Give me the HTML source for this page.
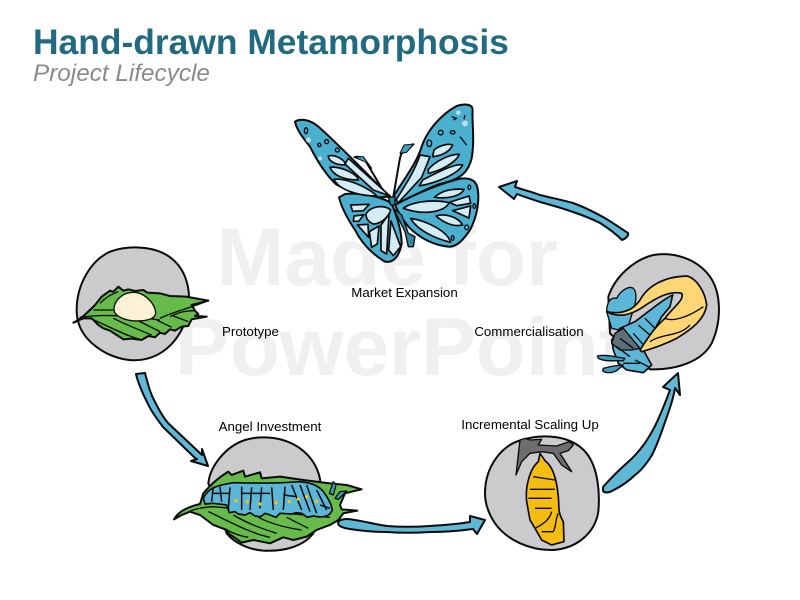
<!DOCTYPE html>
<html><head><meta charset="utf-8"><style>
html,body{margin:0;padding:0;background:#fff;width:800px;height:600px;overflow:hidden}
svg{display:block}
text{font-family:"Liberation Sans",sans-serif}
</style></head><body>
<svg width="800" height="600" viewBox="0 0 800 600" xmlns="http://www.w3.org/2000/svg">
<text x="33" y="54" font-size="35.4" font-weight="bold" fill="#216a80">Hand-drawn Metamorphosis</text>
<text x="33" y="81" font-size="24.3" font-style="italic" fill="#8a8a8a">Project Lifecycle</text>
<text x="387" y="285" font-size="82" font-weight="bold" fill="#f0f0f0" text-anchor="middle">Made for</text>
<text x="175" y="375" font-size="82" font-weight="bold" fill="#f0f0f0">PowerPoint</text>

<g stroke="#0b0b0b" stroke-width="2" stroke-linejoin="round" fill="#cbcbcd">
<g transform="translate(60,240) scale(.3333)" stroke-width="6">
<path d="M50,210C50,130 95,60 150,35C195,18 270,15 320,45C370,75 390,130 387,190C384,250 350,310 300,340C250,370 190,365 140,340C85,310 50,270 50,210Z"/>
<path fill="#66bb4a" d="M40,248C65,235 85,215 105,195L125,170L150,152L160,155L175,140L190,152L205,148L225,153L250,150L262,158L300,160L330,168L378,170L445,182L395,195L405,212L415,222L405,228L440,230L395,238L385,258L365,260L345,272L330,268L315,282L300,278L285,292L265,288L245,300L215,296L190,298L170,285L150,272L130,265L115,255L95,235L70,235Z"/>
<path fill="none" stroke-width="4" d="M60,232C110,225 170,222 300,240M90,235C140,255 190,285 240,298M160,235C200,255 250,275 275,285M230,240L300,275M290,240L335,262M300,235C340,215 390,205 445,182M330,230C360,215 380,212 405,212M340,228L385,245M100,210L160,210M120,190C140,170 160,160 175,155"/>
<path fill="#fdf1d6" d="M162,205C165,175 195,155 225,157C255,160 285,190 287,218C287,240 250,245 215,242C185,238 160,225 162,205Z" stroke-width="4"/>
</g>

<g transform="translate(170,430) scale(.3333)" stroke-width="6">
<path d="M115,160C120,110 165,50 225,30C275,15 340,20 390,55C425,80 450,120 452,165L430,310C400,350 340,365 280,362C230,358 190,335 170,310Z"/>
<path fill="#66bb4a" d="M12,268C25,245 50,232 90,222L100,190C125,160 150,140 175,125L185,135L220,122L225,140L270,127L275,145L330,140L400,150L480,160L530,165L575,178L525,190L510,225L515,238L562,242L520,250L505,270L480,285L440,300L410,320L370,330L340,322L300,340L250,330L215,338L175,310L170,300L130,285L90,255L60,245L35,255Z"/>
<path fill="none" stroke-width="4" d="M40,255C60,240 90,232 130,230L480,262M115,245C170,270 240,310 300,322M190,255C240,285 290,300 320,310M265,262C310,285 360,295 395,300M350,262L415,295M170,300C200,315 220,320 235,322"/>
<path fill="#5cb6d8" d="M100,205C115,170 150,165 190,158C250,160 320,160 390,155C420,158 445,165 460,185C475,205 485,225 487,240C480,258 460,265 430,258L412,262L395,250L380,248L365,252L330,250L318,262L300,255L285,250L272,260L255,258L240,248L225,255L205,252L195,245L178,248L170,225L130,220L105,222Z" stroke-width="5"/>
<path fill="#3f9dbd" d="M478,190L490,155L498,165L490,195ZM495,205L510,185L530,183L505,208Z" stroke-width="4"/>
<path fill="none" stroke-width="4.5" d="M130,170L125,215M150,170L155,215M180,172L175,240M215,170L215,240M245,172L240,240M275,172L270,235M305,172L310,240M345,170L340,240M365,165L395,240M390,165L420,245M410,165L440,250M440,180L470,240M125,190L180,190M215,190L300,190M340,195L380,200M450,225L480,235"/>
<g fill="#f5c518" stroke="none"><circle cx="198" cy="212" r="5"/><circle cx="232" cy="215" r="5"/><circle cx="270" cy="222" r="5"/><circle cx="318" cy="218" r="5"/><circle cx="358" cy="215" r="5"/><circle cx="385" cy="207" r="5"/><circle cx="410" cy="200" r="5"/><circle cx="440" cy="214" r="5"/></g>
</g>

<g transform="translate(480,430) scale(.3333)" stroke-width="6">
<path d="M15,190C15,110 65,45 125,30C190,10 275,15 320,70C355,115 360,190 355,245C345,310 290,355 220,360C150,362 80,330 45,280C25,250 15,220 15,190Z"/>
<path fill="#6e6e70" d="M108,135L120,30L135,25L150,30L185,28L175,45L230,48L268,35L280,45L265,62L240,70L275,125L245,105L220,70L185,65L150,70L125,95Z" stroke-width="4"/>
<path fill="#f5bd11" d="M180,70L195,92C220,110 230,150 235,200C238,230 232,245 250,275L252,335L215,345L185,330L165,295L150,270L140,215C135,170 150,115 175,95Z" stroke-width="5"/>
<path fill="none" stroke-width="4" d="M160,140L225,150M150,178L225,178M145,205L215,205M165,235L215,235M215,245C210,265 195,280 165,295M235,250C225,270 230,285 220,305M185,305L220,305"/>
</g>

<g transform="translate(590,250) scale(.3333)" stroke-width="6">
<path d="M55,140C75,80 130,30 190,15C250,5 320,25 360,80C395,130 395,215 365,280C335,335 260,360 180,358L60,250Z"/>
<path fill="#5cb6d8" d="M50,185C50,160 60,140 80,145C90,125 115,105 130,115C145,130 135,170 125,195L110,245L65,235Z" stroke-width="4"/>
<path fill="#5cb6d8" d="M135,215C170,190 215,150 248,135L240,170L215,200L160,300L185,345L160,368L110,360L85,340L70,300L65,270L90,235Z" stroke-width="5"/>
<path fill="#5f6f78" d="M75,250L100,235L125,265L150,295L125,300L90,300L65,280Z" stroke-width="4"/>
<path fill="none" stroke-width="4" d="M165,205L200,240M145,225L185,260M130,250L165,290M90,265L130,295M80,290L120,320M100,340L150,340M135,330L175,350"/>
<path fill="#3f9dbd" d="M22,318C45,312 80,322 105,325L100,332C70,332 40,335 25,325ZM40,355C60,350 85,345 100,345L80,362C65,370 45,370 38,362Z" stroke-width="4"/>
<path fill="#ffd676" d="M50,185C95,195 130,180 150,150C175,105 225,80 290,78C320,85 345,125 350,165C345,205 310,235 260,265C220,285 190,295 155,305L150,300C170,270 190,235 225,205C250,170 285,150 275,130C235,120 190,150 160,170C125,195 85,205 50,185Z" stroke-width="5"/>
<path fill="none" stroke-width="4" d="M225,205C245,215 290,205 340,170M180,275C215,250 270,260 300,225"/>
</g>

<g transform="translate(280,90) scale(.3333)" stroke-width="6" fill="#4bafcf">
<path d="M45,95C60,85 90,88 115,110C150,140 200,190 250,240L330,320L300,322C250,315 190,300 165,280C135,250 110,210 90,170C70,145 50,120 45,95Z"/>
<path d="M340,320C370,270 410,220 425,170C440,125 480,75 530,48C555,40 578,42 578,60C575,90 585,150 575,205C565,245 545,268 480,282C430,300 385,325 345,345Z"/>
<path d="M335,340C300,318 240,308 195,312L177,322C185,355 205,390 225,420C240,450 265,485 315,515C340,520 358,500 365,460C365,420 350,380 335,340Z"/>
<path d="M345,345C400,315 470,285 525,270C550,262 580,262 590,285C602,320 592,380 570,420C550,450 530,472 505,470C460,465 420,445 385,410C370,390 355,370 345,345Z"/>
<path fill="#2f8aa3" d="M325,322L345,320L345,345L332,345ZM340,355L365,375L385,430L405,440L400,470L385,470L375,425Z" stroke-width="4"/>
<path fill="none" d="M340,320L358,215C362,190 370,170 400,163C385,180 375,185 365,190M320,320L255,210C245,200 235,198 222,202"/>
<path fill="#3f9dbd" stroke-width="3" d="M372,165L402,162L380,187L360,190ZM222,202L250,200L275,235L255,215Z"/>
<g fill="#d3ecf6" stroke-width="5">
<path d="M205,205L330,318L280,300L195,222Z"/><path d="M145,198C165,192 200,212 195,225C170,225 145,215 145,198Z"/><path d="M150,232C180,228 230,250 235,270C195,270 160,258 150,232Z"/><path d="M162,268C200,262 275,298 290,318C240,318 178,302 162,268Z"/>
<path d="M420,195L450,200L425,262L355,338L348,330C380,280 405,240 420,195Z"/><path d="M462,180C480,165 508,160 518,165C508,188 480,198 458,200Z"/><path d="M445,238C470,210 512,192 538,193C528,218 480,243 445,250Z"/><path d="M428,270C470,248 528,218 548,225C533,253 470,278 418,288Z"/>
<path d="M258,372C272,348 312,343 332,360C327,382 300,402 280,402C268,397 258,387 258,372Z"/><path d="M212,345L268,343L250,362L218,364Z"/><path d="M222,378L252,374L236,394L220,394Z"/><path d="M232,405L264,403L266,442Z"/><path d="M268,425L297,408L292,462L275,472Z"/><path d="M303,405L327,372L320,492L303,482Z"/><path d="M333,393L362,470L340,497L326,480Z"/>
<path d="M370,355C400,333 462,328 508,338C492,367 430,377 370,355Z"/><path d="M463,322C490,298 522,296 552,298C542,320 500,327 463,322Z"/><path d="M508,337L567,318L572,340L530,347Z"/><path d="M518,362L572,348L567,384Z"/><path d="M468,378C490,370 532,378 548,405C520,412 490,397 468,378Z"/><path d="M392,385C440,393 502,423 512,457C470,447 412,422 392,385Z"/>
</g>
<g fill="#fff" fill-opacity=".6" stroke="none"><circle cx="85" cy="150" r="8"/><circle cx="555" cy="100" r="9"/><circle cx="535" cy="68" r="7"/><circle cx="120" cy="205" r="6"/></g>
<g fill="none" stroke-width="4"><circle cx="140" cy="155" r="6"/><circle cx="118" cy="165" r="5"/><ellipse cx="78" cy="122" rx="5" ry="9"/><circle cx="172" cy="180" r="6"/><path d="M515,80L530,85L520,90M555,75L552,88"/><circle cx="482" cy="128" r="7"/><ellipse cx="518" cy="127" rx="7" ry="5"/><path d="M540,140L560,165"/><ellipse cx="448" cy="160" rx="7" ry="10"/><ellipse cx="568" cy="292" rx="4" ry="7"/><ellipse cx="583" cy="348" rx="4" ry="7"/><ellipse cx="560" cy="412" rx="6" ry="7"/><ellipse cx="518" cy="444" rx="4" ry="7"/></g>
</g>

<g fill="#5fb8d6">
<path d="M136,374L145,373C148,384 150,393 155,402C159,410 163,417 168,423L202,455L202,449L208,466L191,461L197,459L195,458L163,427C157,419 151,411 147,402C142,392 138,383 136,374Z"/>
<path d="M338,523C339,520 342,519 347,519C360,520 372,524 387,526C400,527 415,527 430,526C445,525 458,524 470,522L470,516L485,520L477,534L473,529C458,531 445,532 430,532C415,533 400,533 387,532C375,532 362,531 350,529C343,528 338,526 338,523Z"/>
<path d="M603,487C611,478 619,470 628,462C635,456 640,450 645,443C651,434 656,425 660,415C664,406 667,398 670,390L663,387L678,373L680,395L675,388C673,400 669,411 665,422C661,434 657,445 652,455C647,463 642,470 635,475C628,482 620,487 612,491C608,493 605,493 603,491Z"/>
<path d="M499,187L517,181L515,187C524,190 532,192 540,195C552,198 562,200 573,203C584,207 594,212 603,217C612,222 620,228 628,233C629,236 625,239 622,240C616,234 608,228 600,223C592,219 582,215 573,212C562,208 551,205 540,202C532,199 524,197 517,194L514,199Z"/>
</g>
</g>

<g font-size="13.3" fill="#000" text-anchor="middle">
<text x="404.5" y="297">Market Expansion</text>
<text x="250.5" y="336">Prototype</text>
<text x="529" y="336">Commercialisation</text>
<text x="270" y="431">Angel Investment</text>
<text x="530" y="429">Incremental Scaling Up</text>
</g>
</svg>
</body></html>
